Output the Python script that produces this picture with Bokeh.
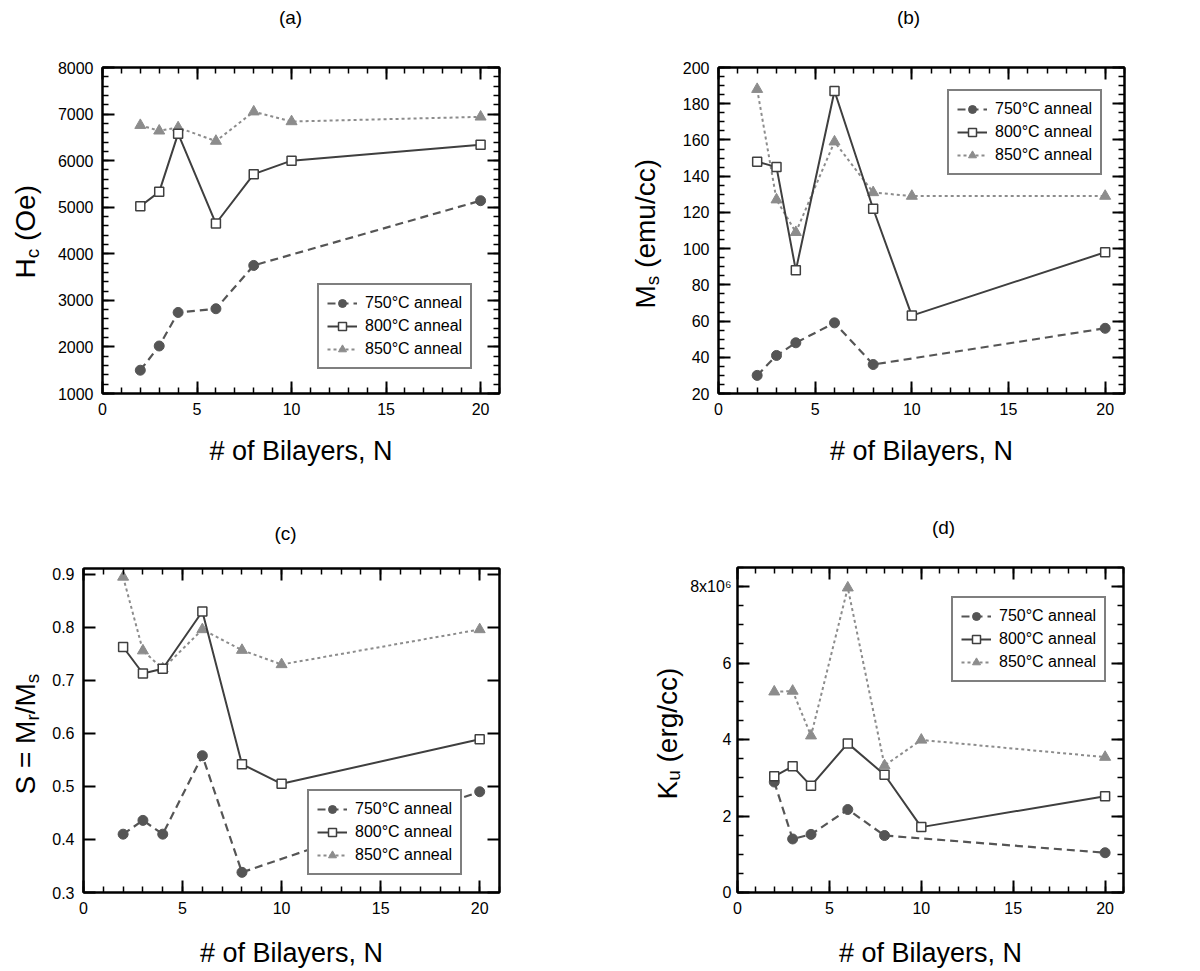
import math
import numpy as np
from bokeh.plotting import figure
from bokeh.models import Range1d, LinearAxis, FixedTicker, Legend, LegendItem, Label
from bokeh.layouts import row, column
from bokeh.embed import file_html
from bokeh.resources import INLINE

# ---------------- data ----------------
N_750 = [2, 3, 4, 6, 8, 20]
N_ALL = [2, 3, 4, 6, 8, 10, 20]
series_names = ["750°C anneal", "800°C anneal", "850°C anneal"]

hc_750 = [1500, 2020, 2740, 2820, 3750, 5140]
hc_800 = [5020, 5330, 6580, 4650, 5710, 6000, 6340]
hc_850 = [6760, 6640, 6710, 6420, 7050, 6840, 6940]

ms_750 = [30, 41, 48, 59, 36, 56]
ms_800 = [148, 145, 88, 187, 122, 63, 98]
ms_850 = [188, 127, 109, 159, 131, 129, 129]

s_750 = [0.410, 0.436, 0.410, 0.558, 0.338, 0.490]
s_800 = [0.763, 0.713, 0.722, 0.830, 0.542, 0.505, 0.589]
s_850 = [0.895, 0.756, 0.722, 0.796, 0.757, 0.730, 0.796]

# K_u in units of 10^6 erg/cc
ku_750 = [2.89, 1.40, 1.52, 2.17, 1.49, 1.04]
ku_800 = [3.04, 3.30, 2.79, 3.90, 3.08, 1.71, 2.52]
ku_850 = [5.25, 5.27, 4.10, 7.97, 3.32, 3.99, 3.54]

x_ticks = [0, 5, 10, 15, 20]
x_label = "# of Bilayers, N"

FONT = "Liberation Sans"
C750, C800, C850 = "#555555", "#3f3f3f", "#8c8c8c"

# Arial / Liberation Sans advance widths (em)
CW = {"H": .722, "M": .833, "S": .667, "K": .667, " ": .278, "=": .584, "/": .278,
      "(": .333, ")": .333, "O": .778, "e": .556, "m": .833, "u": .556, "c": .5,
      "g": .556, "r": .333, "s": .5}


def tw(s, size):
    return sum(CW[ch] for ch in s) * size


def text_canvas(width, height, bt=0, bb=0):
    f = figure(width=width, height=height, output_backend="svg", toolbar_location=None,
               x_range=Range1d(0, 1), y_range=Range1d(0, 1), min_border=0,
               min_border_top=bt, min_border_bottom=bb,
               x_axis_location=None, y_axis_location=None)
    f.xgrid.visible = False
    f.ygrid.visible = False
    f.outline_line_color = None
    f.background_fill_color = "white"
    f.border_fill_color = "white"
    return f


def title_canvas(width, height, text, x, y):
    f = text_canvas(width, height)
    f.add_layout(Label(x=x, y=y, x_units="screen", y_units="screen", text=text,
                       text_align="center", text_baseline="middle", text_font=FONT,
                       text_font_size="19px", text_color="black"))
    return f


def ylabel_canvas(width, height, bt, bb, pieces, x0, y0, main=28, sub=19, sub_dx=7):
    # frame of this canvas spans the same rows as the panel's frame
    f = text_canvas(width, height, bt, bb)
    y = y0
    for txt, is_sub in pieces:
        size = sub if is_sub else main
        lead = len(txt) - len(txt.lstrip(" "))
        y += tw(" " * lead, size)
        txt = txt.lstrip(" ")
        f.add_layout(Label(x=x0 + (sub_dx if is_sub else 0), y=y, x_units="screen", y_units="screen",
                           text=txt, angle=math.pi / 2, text_align="left", text_baseline="middle",
                           text_font=FONT, text_font_size=f"{size}px", text_color="black"))
        y += tw(txt, size)
    return f


def style_axis(ax, ticker, labels=True, standoff=9):
    ax.ticker = ticker
    ax.axis_line_width = 2
    ax.axis_line_color = "black"
    ax.major_tick_line_width = 2
    ax.major_tick_line_color = "black"
    ax.minor_tick_line_width = 1.5
    ax.minor_tick_line_color = "black"
    ax.major_tick_in = 12
    ax.major_tick_out = 0
    ax.minor_tick_in = 6
    ax.minor_tick_out = 0
    ax.major_label_text_font = FONT
    ax.major_label_text_font_size = "16px"
    if labels:
        ax.major_label_text_color = "black"
        ax.major_label_standoff = standoff
    else:
        ax.major_label_text_color = None
        ax.major_label_standoff = 0


def panel(width, height, borders, y_range, y_major, y_minor, data, legend_xy,
          xlabel_standoff, y_overrides=None, y_standoff=9):
    bl, br, bt, bb = borders
    p = figure(width=width, height=height, output_backend="svg", toolbar_location=None,
               x_range=Range1d(0, 21), y_range=Range1d(*y_range),
               min_border_left=bl, min_border_right=br, min_border_top=bt, min_border_bottom=bb,
               x_axis_location=None, y_axis_location=None)
    p.xgrid.visible = False
    p.ygrid.visible = False
    p.outline_line_color = "black"
    p.outline_line_width = 2
    p.background_fill_color = "white"
    p.border_fill_color = "white"

    xt = FixedTicker(ticks=x_ticks, minor_ticks=list(range(0, 22)))
    yt = FixedTicker(ticks=y_major, minor_ticks=y_minor)

    xb = LinearAxis()
    style_axis(xb, xt)
    xb.axis_label = x_label
    xb.axis_label_text_font = FONT
    xb.axis_label_text_font_size = "27px"
    xb.axis_label_text_font_style = "normal"
    xb.axis_label_text_color = "black"
    xb.axis_label_standoff = xlabel_standoff
    p.add_layout(xb, "below")
    xa = LinearAxis()
    style_axis(xa, xt, labels=False)
    p.add_layout(xa, "above")

    yl = LinearAxis()
    style_axis(yl, yt, standoff=y_standoff)
    if y_overrides:
        yl.major_label_overrides = y_overrides
    p.add_layout(yl, "left")
    yr = LinearAxis()
    style_axis(yr, yt, labels=False)
    p.add_layout(yr, "right")

    d750, d800, d850 = data
    l850 = p.line(N_ALL, d850, line_color=C850, line_width=2, line_dash="3 3")
    m850 = p.scatter(N_ALL, d850, marker="triangle", size=11, fill_color=C850, line_color=C850)
    l750 = p.line(N_750, d750, line_color=C750, line_width=2.2, line_dash="8 5")
    m750 = p.scatter(N_750, d750, marker="circle", size=10, fill_color=C750, line_color=C750)
    l800 = p.line(N_ALL, d800, line_color=C800, line_width=2)
    m800 = p.scatter(N_ALL, d800, marker="square", size=9, fill_color="white", line_color=C800,
                     line_width=1.5)

    legend = Legend(items=[LegendItem(label=series_names[0], renderers=[l750, m750]),
                           LegendItem(label=series_names[1], renderers=[l800, m800]),
                           LegendItem(label=series_names[2], renderers=[l850, m850])],
                    location=legend_xy, border_line_color="black", border_line_width=2,
                    background_fill_color="white", background_fill_alpha=1.0,
                    label_text_font=FONT, label_text_font_size="16px", label_text_color="black",
                    glyph_width=30, glyph_height=20, label_height=20, label_standoff=8,
                    spacing=3, padding=8, margin=0)
    p.add_layout(legend)
    return p


# ---- (a) ----
ta = title_canvas(600, 38, "(a)", 290, 21)
ya = ylabel_canvas(52, 448, 29, 93, [("H", False), ("c", True), (" (Oe)", False)], 25, 115)
pa = panel(548, 448, (50, 101, 29, 93), (1000, 8000),
           list(range(1000, 8001, 1000)), list(range(1000, 8001, 200)),
           (hc_750, hc_800, hc_850), (215, 24), 18)

# ---- (b) ----
tb = title_canvas(600, 38, "(b)", 308, 21)
yb = ylabel_canvas(70, 448, 29, 93, [("M", False), ("s", True), (" (emu/cc)", False)], 45, 85)
pb = panel(530, 448, (48, 76, 29, 93), (20, 200),
           list(range(20, 201, 20)), list(range(20, 201, 5)),
           (ms_750, ms_800, ms_850), (229, 218), 18)

# ---- (c) ----
tc = title_canvas(600, 60, "(c)", 285, 13)
yc = ylabel_canvas(48, 424, 22, 77, [("S = M", False), ("r", True), ("/M", False), ("s", True)], 25, 98)
pc = panel(552, 424, (35, 101, 22, 77), (0.3, 0.911),
           [0.3, 0.4, 0.5, 0.6, 0.7, 0.8, 0.9], [],
           (s_750, s_800, s_850), (224, 17), 21)

# ---- (d) ----
td = title_canvas(600, 60, "(d)", 343, 19)
yd = ylabel_canvas(87, 424, 21, 77, [("K", False), ("u", True), (" (erg/cc)", False)], 67, 93,
                   sub_dx=6)
pd_ = panel(513, 424, (50, 77, 21, 77), (0, 8.5),
            [0, 2, 4, 6, 8], list(np.arange(0, 8.51, 0.5)),
            (ku_750, ku_800, ku_850), (214, 210), 21,
            y_overrides={8: "8x10⁶"}, y_standoff=6)

layout = column(
    row(column(ta, row(ya, pa)), column(tb, row(yb, pb))),
    row(column(tc, row(yc, pc)), column(td, row(yd, pd_))),
)

open("out.html", "w").write(file_html(layout, INLINE))
